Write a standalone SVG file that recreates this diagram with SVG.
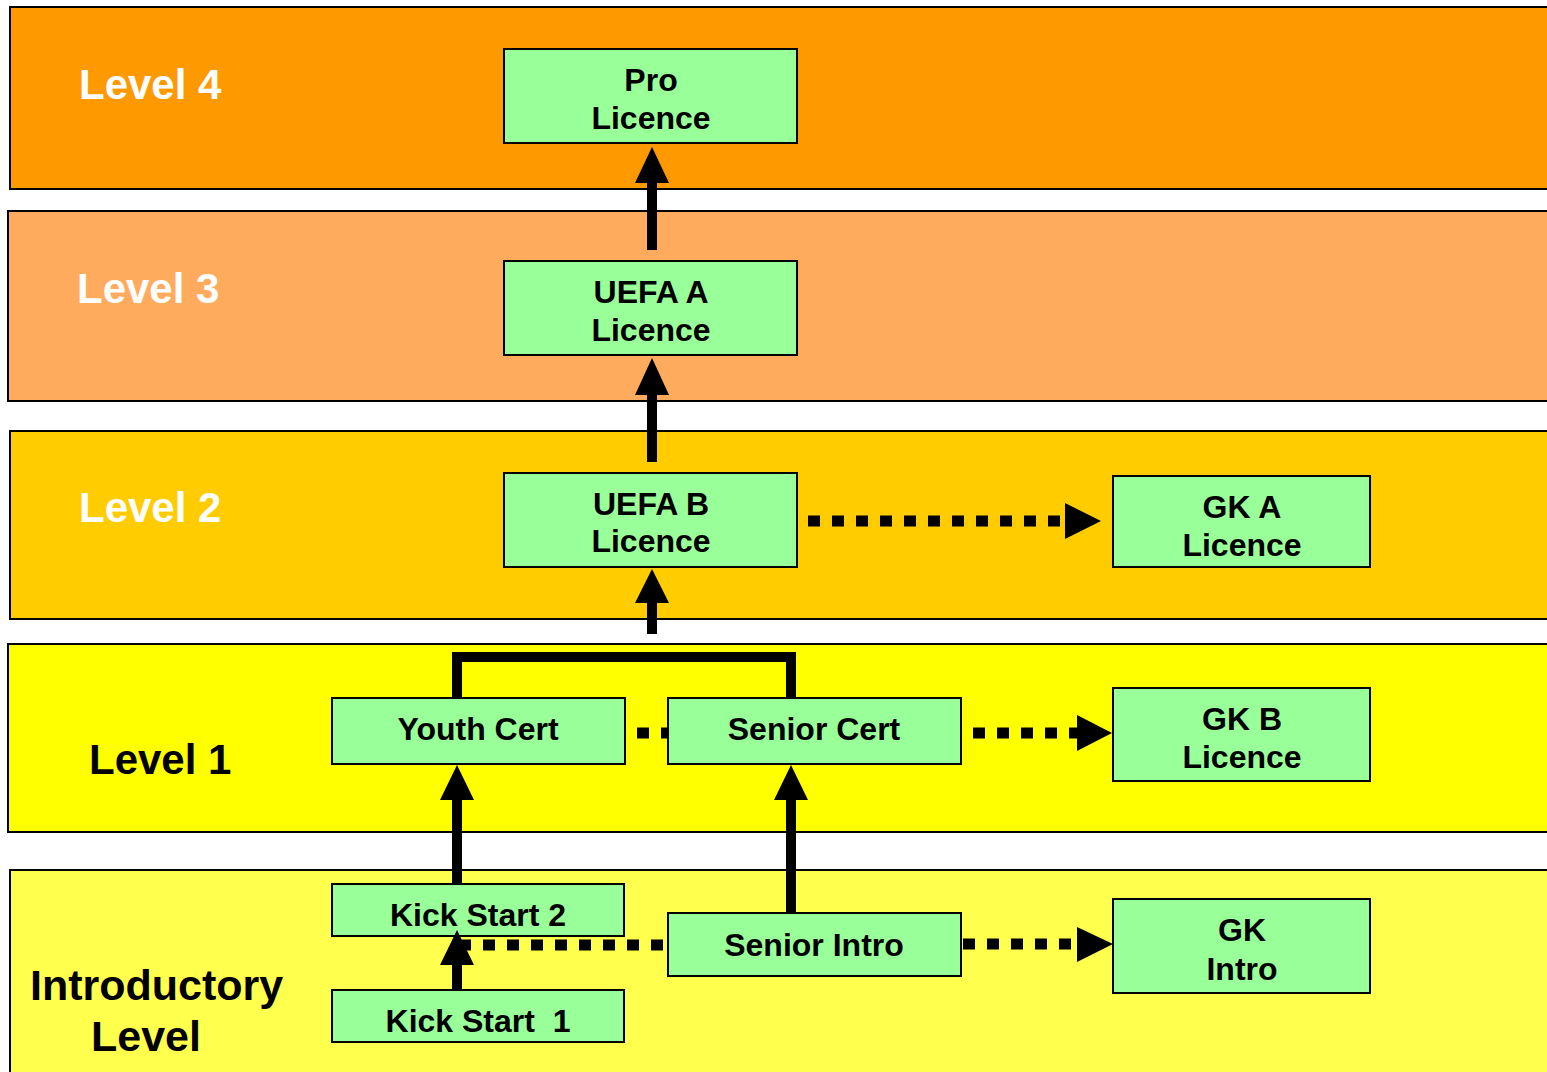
<svg xmlns="http://www.w3.org/2000/svg" width="1547" height="1072" viewBox="0 0 1547 1072">
<style>
.band{stroke:#000;stroke-width:2}
.node rect{fill:#99FF99;stroke:#000;stroke-width:2}
.node text{font-family:"Liberation Sans",Arial,sans-serif;font-weight:bold;font-size:32px;text-anchor:middle;fill:#000;white-space:pre}
.lvl{font-family:"Liberation Sans",Arial,sans-serif;font-weight:bold;font-size:42px}
.intro{font-size:43px}
.solid{stroke:#000;stroke-width:10;fill:none}
.dot{stroke:#000;stroke-width:11;stroke-dasharray:12 12;fill:none}
.head{fill:#000}
</style>
<rect fill="#fff" width="1547" height="1072"/>
<g id="bands">
<rect class="band" x="10" y="7" width="1550" height="182" fill="#FF9900"/>
<rect class="band" x="8" y="211" width="1552" height="190" fill="#FFAB5E"/>
<rect class="band" x="10" y="431" width="1550" height="188" fill="#FFCC00"/>
<rect class="band" x="8" y="644" width="1552" height="188" fill="#FFFF00"/>
<rect class="band" x="10" y="870" width="1550" height="210" fill="#FFFF4D"/>
</g>
<g id="level-labels">
<text class="lvl" x="79" y="99" fill="#fff">Level 4</text>
<text class="lvl" x="77" y="303" fill="#fff">Level 3</text>
<text class="lvl" x="79" y="522" fill="#fff">Level 2</text>
<text class="lvl" x="89" y="774" fill="#000">Level 1</text>
<text class="lvl intro" x="30" y="1000" fill="#000">Introductory</text>
<text class="lvl intro" x="91" y="1051" fill="#000">Level</text>
</g>
<g id="pro" class="node"><rect x="504" y="49" width="293" height="94"/><text x="651" y="91">Pro</text><text x="651" y="129">Licence</text></g>
<g id="uefa-a" class="node"><rect x="504" y="261" width="293" height="94"/><text x="651" y="303">UEFA A</text><text x="651" y="341">Licence</text></g>
<g id="uefa-b" class="node"><rect x="504" y="473" width="293" height="94"/><text x="651" y="515">UEFA B</text><text x="651" y="552">Licence</text></g>
<g id="gk-a" class="node"><rect x="1113" y="476" width="257" height="91"/><text x="1242" y="518">GK A</text><text x="1242" y="556">Licence</text></g>
<g id="youth-cert" class="node"><rect x="332" y="698" width="293" height="66"/><text x="478" y="740">Youth Cert</text></g>
<g id="senior-cert" class="node"><rect x="668" y="698" width="293" height="66"/><text x="814" y="740">Senior Cert</text></g>
<g id="gk-b" class="node"><rect x="1113" y="688" width="257" height="93"/><text x="1242" y="730">GK B</text><text x="1242" y="768">Licence</text></g>
<g id="kick-start-2" class="node"><rect x="332" y="884" width="292" height="52"/><text x="478" y="926">Kick Start 2</text></g>
<g id="senior-intro" class="node"><rect x="668" y="913" width="293" height="63"/><text x="814" y="956">Senior Intro</text></g>
<g id="gk-intro" class="node"><rect x="1113" y="899" width="257" height="94"/><text x="1242" y="941">GK</text><text x="1242" y="980">Intro</text></g>
<g id="kick-start-1" class="node"><rect x="332" y="990" width="292" height="52"/><text x="478" y="1032">Kick Start  1</text></g>
<g id="connectors">
<line class="solid" x1="652" y1="250" x2="652" y2="180"/><polygon class="head" points="635,183 652,147 669,183"/>
<line class="solid" x1="652" y1="462" x2="652" y2="392"/><polygon class="head" points="635,395 652,358 669,395"/>
<line class="solid" x1="652" y1="634" x2="652" y2="600"/><polygon class="head" points="635,603 652,569 669,603"/>
<path class="solid" d="M457,698 V657 H791 V698" stroke-width="11"/>
<line class="solid" x1="457" y1="884" x2="457" y2="797"/><polygon class="head" points="440,800 457,765 474,800"/>
<line class="solid" x1="791" y1="913" x2="791" y2="797"/><polygon class="head" points="774,800 791,765 808,800"/>
<line class="solid" x1="457" y1="990" x2="457" y2="962"/><polygon class="head" points="440,965 457,930 474,965"/>
<line class="dot" x1="808" y1="521" x2="1066" y2="521"/><polygon class="head" points="1065,503 1101,521 1065,539"/>
<line class="dot" x1="637" y1="733" x2="668" y2="733"/>
<line class="dot" x1="973" y1="733" x2="1080" y2="733"/><polygon class="head" points="1077,715 1112,733 1077,751"/>
<line class="dot" x1="963" y1="944" x2="1071" y2="944"/><polygon class="head" points="1077,927 1113,944 1077,962"/>
<line class="dot" x1="663" y1="945" x2="460" y2="945"/>
</g>
</svg>
